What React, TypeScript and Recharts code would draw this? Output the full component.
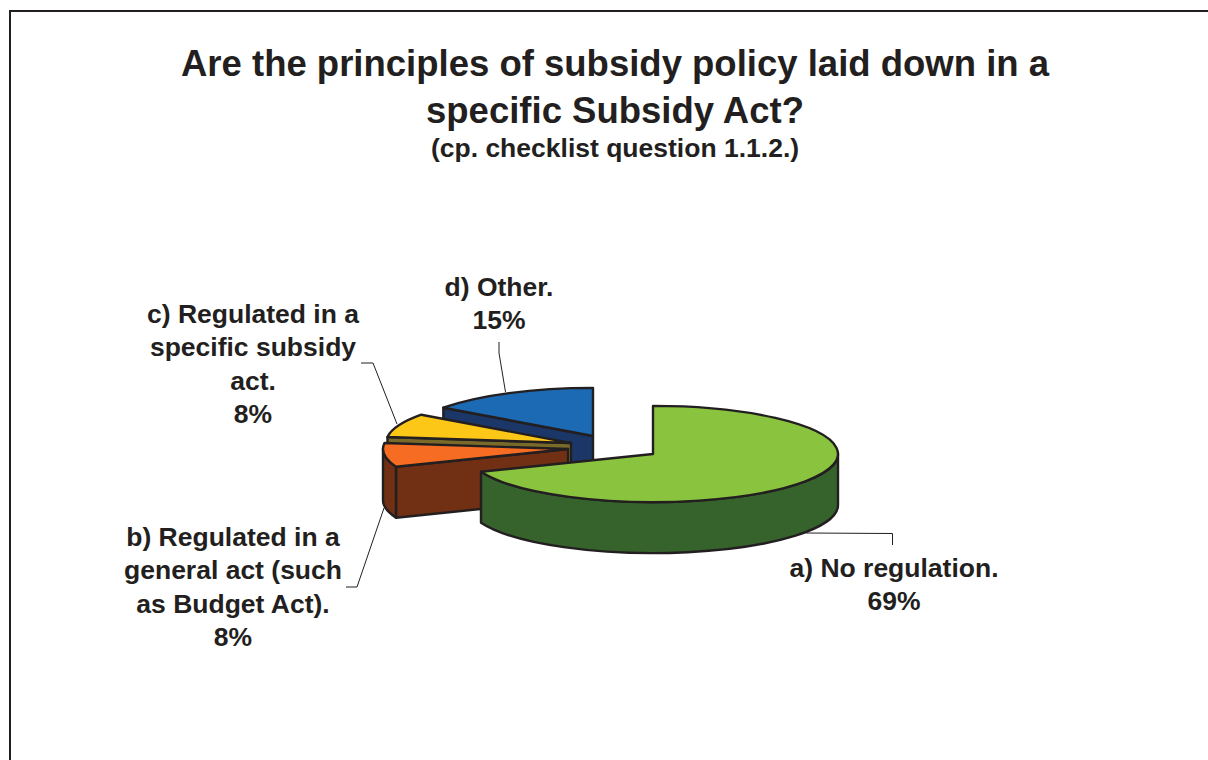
import React from "react";
import { PieChart, Pie } from "recharts";

// Survey answers, listed in the order they are painted (back slices first).
const categories = ["d) Other.", "c) Regulated in a specific subsidy act.", "b) Regulated in a general act (such as Budget Act).", "a) No regulation."];
const shares = [15, 8, 8, 69];
const topColors = ["#1c6ab4", "#fdc717", "#f56c22", "#8ac43f"];
const sideColors = ["#1b3768", "#7a6a2a", "#713013", "#36622c"];
const labelLines = [
  ["d) Other."],
  ["c) Regulated in a", "specific subsidy", "act."],
  ["b) Regulated in a", "general act (such", "as Budget Act)."],
  ["a) No regulation."],
];

const titleLines = ["Are the principles of subsidy policy laid down in a", "specific Subsidy Act?"];
const subtitle = "(cp. checklist question 1.1.2.)";

const WIDTH = 1208;
const HEIGHT = 760;
const INK = "#231f20";
const CX = 600;
const CY = 445;
const RADIUS = 185;
const SQUASH = 0.26;
const DEPTH = 51;

// Displacement of each exploded slice from the pie centre.
const explode = [
  [-7, -9],
  [-29, -2],
  [-32, 4],
  [53, 9],
];

// Label block centre and first baseline, plus the leader line for each slice.
const labelPlacement = [
  { x: 499, y: 296 },
  { x: 253, y: 323 },
  { x: 233, y: 546 },
  { x: 894, y: 577 },
];
const leaders = [
  "M499 342 L499 353 L505.5 392",
  "M361 363 L373 363 L397 424",
  "M346 587 L357 587 L384 508",
  "M806 533 L892.5 533.5 L892.5 545",
];

const font = "'Liberation Sans', Arial, sans-serif";

const rad = (d: number) => (d * Math.PI) / 180;

// Draws one slice as an extruded elliptical wedge using the angles computed by Pie.
function Wedge3D(props: any) {
  const { startAngle, endAngle, outerRadius, cx, cy } = props;
  const index = categories.indexOf(props.name);
  const [dx, dy] = explode[index];
  const ax = cx + dx;
  const ay = cy + dy;
  const rx = outerRadius;
  const ry = outerRadius * SQUASH;
  const pt = (a: number, down = 0) => [ax + rx * Math.cos(rad(a)), ay - ry * Math.sin(rad(a)) + down];
  const arc = (from: number, to: number, down = 0) => {
    // Angles increase anticlockwise on screen, so sweep flag 0 follows them.
    const [x, y] = pt(to, down);
    const large = Math.abs(to - from) > 180 ? 1 : 0;
    const sweep = to > from ? 0 : 1;
    return `A${rx} ${ry} 0 ${large} ${sweep} ${x} ${y}`;
  };
  const common = { stroke: INK, strokeWidth: 2.4, strokeLinejoin: "round" as const };
  const side = sideColors[index];
  const faces: React.ReactNode[] = [];

  const face = (a: number, key: string) => {
    const [x, y] = pt(a);
    const [xb, yb] = pt(a, DEPTH);
    faces.push(
      <path key={key} d={`M${ax} ${ay} L${x} ${y} L${xb} ${yb} L${ax} ${ay + DEPTH} Z`} fill={side} {...common} />
    );
  };
  if (Math.cos(rad(startAngle)) > 1e-6) face(startAngle, "start");
  if (Math.cos(rad(endAngle)) < -1e-6) face(endAngle, "end");

  // Outer rim: the part of the wedge between 180 and 360 degrees faces the viewer.
  const rimFrom = Math.max(startAngle, 180);
  const rimTo = Math.min(endAngle, 360);
  if (rimTo > rimFrom) {
    const [sx, sy] = pt(rimFrom);
    const [ex, ey] = pt(rimTo, DEPTH);
    faces.push(
      <path
        key="rim"
        d={`M${sx} ${sy} ${arc(rimFrom, rimTo)} L${ex} ${ey} ${arc(rimTo, rimFrom, DEPTH)} Z`}
        fill={side}
        {...common}
      />
    );
  }

  const [sx, sy] = pt(startAngle);
  return (
    <g>
      {faces}
      <path d={`M${ax} ${ay} L${sx} ${sy} ${arc(startAngle, endAngle)} Z`} fill={topColors[index]} {...common} />
    </g>
  );
}

function SliceLabel(props: any) {
  const index = categories.indexOf(props.name);
  const { x, y } = labelPlacement[index];
  const lines = [...labelLines[index], `${Math.round(props.percent * 100)}%`];
  return (
    <text x={x} y={y} textAnchor="middle" fontFamily={font} fontWeight="bold" fontSize={26.5} fill={INK}>
      {lines.map((line, i) => (
        <tspan key={i} x={x} dy={i === 0 ? 0 : 33.4}>
          {line}
        </tspan>
      ))}
    </text>
  );
}

function LeaderLine(props: any) {
  const index = categories.indexOf(props.name);
  return <path d={leaders[index]} fill="none" stroke={INK} strokeWidth={1} />;
}

const data = categories.map((name, i) => ({ name, value: shares[i] }));

export default function App() {
  return (
    <div style={{ position: "absolute", left: 0, top: 0, width: WIDTH, height: HEIGHT, background: "#fff", overflow: "hidden" }}>
      <div style={{ position: "absolute", left: 9, top: 10, width: WIDTH, height: HEIGHT, borderLeft: `2px solid ${INK}`, borderTop: `2px solid ${INK}` }} />
      <div style={{ position: "absolute", left: 0, top: 0 }}>
        <PieChart width={WIDTH} height={HEIGHT} margin={{ top: 0, right: 0, bottom: 0, left: 0 }}>
          <text textAnchor="middle" fontFamily={font} fontWeight="bold" fontSize={36.5} fill={INK}>
            <tspan x={615} y={76}>{titleLines[0]}</tspan>
            <tspan x={615} y={123}>{titleLines[1]}</tspan>
          </text>
          <text x={615} y={157} textAnchor="middle" fontFamily={font} fontWeight="bold" fontSize={26.5} fill={INK}>
            {subtitle}
          </text>
          <Pie
            data={data}
            dataKey="value"
            nameKey="name"
            cx={CX}
            cy={CY}
            outerRadius={RADIUS}
            startAngle={90}
            endAngle={450}
            stroke="none"
            isAnimationActive={false}
            shape={Wedge3D}
            label={SliceLabel}
            labelLine={LeaderLine}
          />
        </PieChart>
      </div>
    </div>
  );
}
